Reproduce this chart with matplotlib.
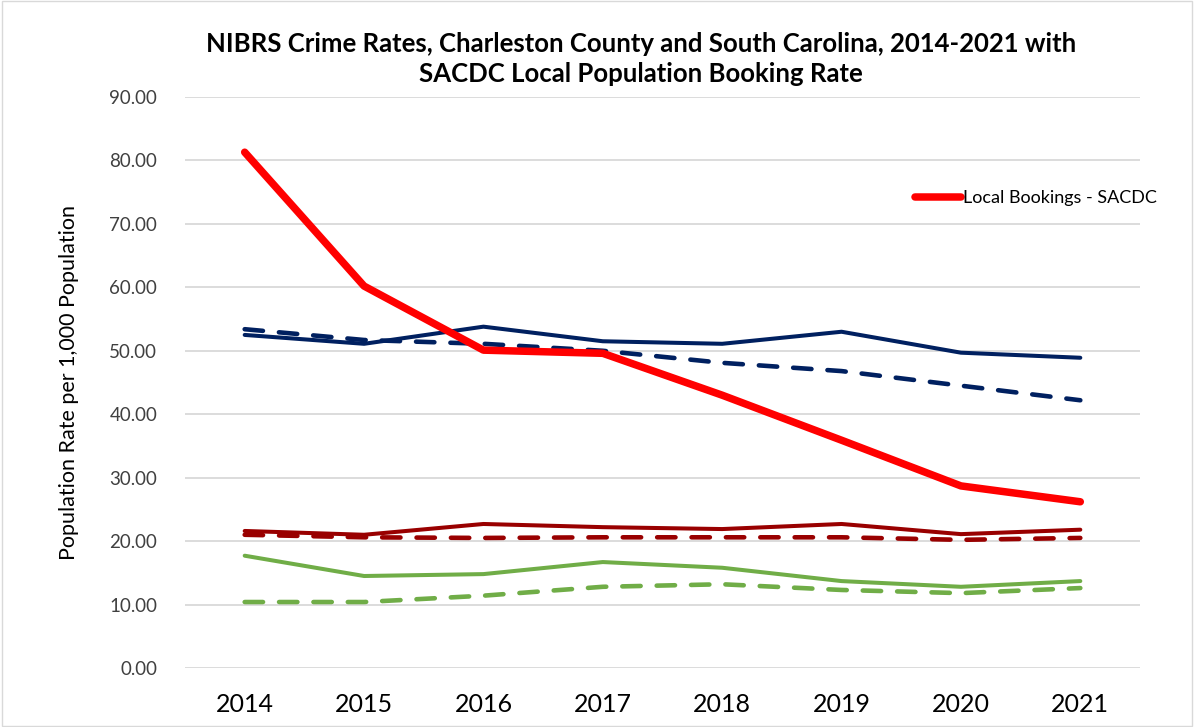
import matplotlib.pyplot as plt
from matplotlib.patches import Rectangle

years = ["2014", "2015", "2016", "2017", "2018", "2019", "2020", "2021"]

bookings = [81.3, 60.2, 50.1, 49.6, 43.0, 35.9, 28.7, 26.2]
county_total = [52.5, 51.1, 53.8, 51.5, 51.1, 53.0, 49.7, 48.9]
state_total = [53.4, 51.7, 51.1, 50.0, 48.1, 46.8, 44.5, 42.2]
county_mid = [21.6, 21.0, 22.7, 22.2, 21.9, 22.7, 21.1, 21.8]
state_mid = [21.0, 20.6, 20.5, 20.6, 20.6, 20.6, 20.2, 20.5]
county_low = [17.7, 14.5, 14.8, 16.7, 15.8, 13.7, 12.8, 13.7]
state_low = [10.4, 10.4, 11.4, 12.8, 13.2, 12.3, 11.8, 12.6]

plt.rcParams["font.family"] = ["Lato", "DejaVu Sans"]

fig = plt.figure(figsize=(11.94, 7.27), dpi=100)
ax = fig.add_axes([185 / 1194, 1 - 668 / 727, (1140 - 185) / 1194, (668 - 97) / 727])

x = range(len(years))
dash = (0, (4, 3.5))

ax.plot(x, county_total, color="#002060", lw=2.9, solid_capstyle="round", zorder=3)
ax.plot(x, state_total, color="#002060", lw=3.3, linestyle=dash, dash_capstyle="round", zorder=3)
ax.plot(x, county_mid, color="#990000", lw=2.9, solid_capstyle="round", zorder=3)
ax.plot(x, state_mid, color="#990000", lw=3.3, linestyle=dash, dash_capstyle="round", zorder=3)
ax.plot(x, county_low, color="#70AD47", lw=2.9, solid_capstyle="round", zorder=3)
ax.plot(x, state_low, color="#70AD47", lw=3.3, linestyle=dash, dash_capstyle="round", zorder=3)
ax.plot(x, bookings, color="#FF0000", lw=5.4, solid_capstyle="round", zorder=4,
        label="Local Bookings - SACDC")

ax.set_xlim(-0.5, 7.5)
ax.set_ylim(0, 90)
ax.set_yticks(range(0, 91, 10))
ax.set_yticklabels([f"{v:.2f}" for v in range(0, 91, 10)], fontsize=13.5, color="#404040")
ax.set_xticks(list(x))
ax.set_xticklabels(years, fontsize=18, color="#000000")
ax.tick_params(length=0)
ax.tick_params(axis="x", pad=18)
ax.tick_params(axis="y", pad=20)
ax.grid(axis="y", color="#D9D9D9", lw=1.3)
ax.set_axisbelow(True)
for s in ax.spines.values():
    s.set_visible(False)

ax.set_ylabel("Population Rate per 1,000 Population", fontsize=15.5, labelpad=22)

ax.legend(loc="upper right", bbox_to_anchor=(1.035, 0.865), frameon=False, fontsize=13,
          handlelength=2.6, handletextpad=0.1)

fig.text(0.537, 0.940, "NIBRS Crime Rates, Charleston County and South Carolina, 2014-2021 with",
         ha="center", va="center", fontsize=18.5, fontweight="bold")
fig.text(0.537, 0.898, "SACDC Local Population Booking Rate",
         ha="center", va="center", fontsize=18.5, fontweight="bold")

fig.patches.append(Rectangle((0.002, 0.002), 0.996, 0.996, transform=fig.transFigure,
                             fill=False, edgecolor="#D9D9D9", lw=1))

fig.savefig("out.png", dpi=100)
